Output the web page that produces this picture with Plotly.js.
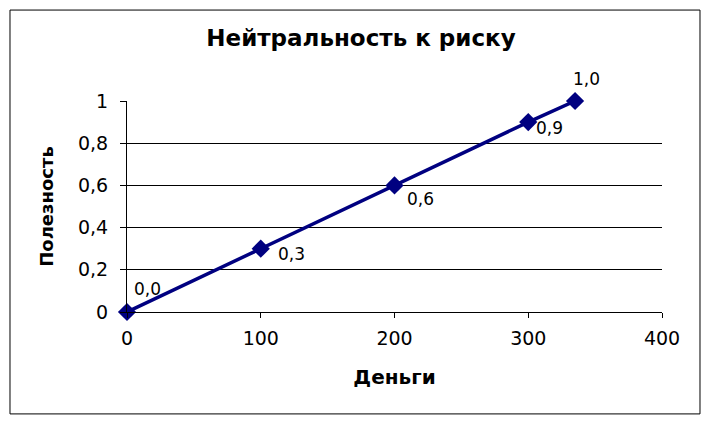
<!DOCTYPE html>
<html><head><meta charset="utf-8">
<script src="https://cdn.plot.ly/plotly-3.0.1.min.js"></script>
<style>html,body{margin:0;padding:0;background:#fff}#c{width:712px;height:424px}</style>
</head><body><div id="c"></div>
<script>
const money = [0, 100, 200, 300, 335];
const utility = [0.0, 0.3, 0.6, 0.9, 1.0];
const pointLabels = ["0,0", "0,3", "0,6", "0,9", "1,0"];
const yTickVals = [0, 0.2, 0.4, 0.6, 0.8, 1];
const yTickText = ["0", "0,2", "0,4", "0,6", "0,8", "1"];
const xTickVals = [0, 100, 200, 300, 400];
// label offsets in pixels (style only)
const labelDx = [6, 16, 11, 7, -3];
const labelDy = [23, -5, -14, -6, 22];

const font = "DejaVu Sans, Verdana, sans-serif";
const annotations = pointLabels.map((t, i) => ({
  x: money[i], y: utility[i], xref: 'x', yref: 'y', text: t, showarrow: false,
  xanchor: 'left', yanchor: 'middle', xshift: labelDx[i], yshift: labelDy[i],
  borderpad: 0, font: {family: font, size: 17, color: '#000'}
}));
Plotly.newPlot('c', [{
  x: money, y: utility, type: 'scatter', mode: 'lines+markers',
  line: {color: '#000080', width: 3.5},
  marker: {symbol: 'diamond', size: 14, color: '#000080'},
  cliponaxis: false, hoverinfo: 'none'
}], {
  width: 712, height: 424,
  margin: {l: 127, r: 50, t: 101, b: 112},
  paper_bgcolor: '#fff', plot_bgcolor: '#fff',
  showlegend: false,
  annotations: annotations,
  title: {text: '<b>Нейтральность к риску</b>', font: {family: font, size: 23, color: '#000'}, x: 0.507, xanchor: 'center', y: 0.91, yanchor: 'middle'},
  xaxis: {range: [0, 400], tickvals: xTickVals, ticks: 'outside', ticklen: 5, tickcolor: '#000',
    showgrid: false, zeroline: false, showline: true, linecolor: '#000', linewidth: 1,
    ticklabelstandoff: 4,
    tickfont: {family: font, size: 19, color: '#000'},
    title: {text: '<b>Деньги</b>', font: {family: font, size: 20, color: '#000'}, standoff: 22}},
  yaxis: {range: [0, 1], tickvals: yTickVals, ticktext: yTickText, ticks: 'outside', ticklen: 6, tickcolor: '#000',
    showgrid: true, gridcolor: '#000', gridwidth: 1, zeroline: false, showline: true, linecolor: '#000', linewidth: 1,
    ticklabelstandoff: 8,
    tickfont: {family: font, size: 19, color: '#000'},
    title: {text: '<b>Полезность</b>', font: {family: font, size: 18, color: '#000'}, standoff: 19}},
  shapes: [{type: 'rect', xref: 'paper', yref: 'paper', x0: -0.2187, x1: 1.071, y0: -0.483, y1: 1.431,
    line: {color: '#000', width: 1}, fillcolor: 'rgba(0,0,0,0)'}]
}, {staticPlot: true});
</script></body></html>
